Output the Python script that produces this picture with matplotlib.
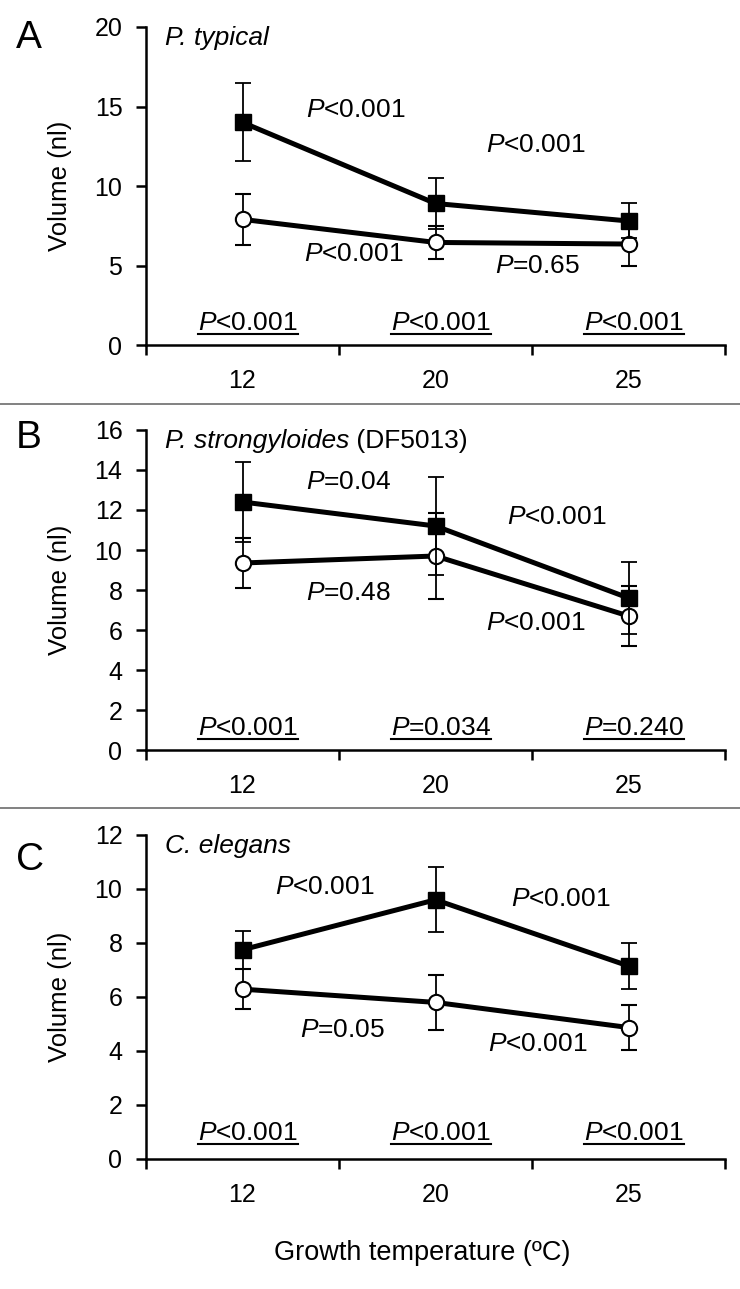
import matplotlib.pyplot as plt
from matplotlib.lines import Line2D
import numpy as np

plt.rcParams['font.family'] = ['Liberation Sans', 'DejaVu Sans']
plt.rcParams['mathtext.fontset'] = 'custom'
plt.rcParams['mathtext.it'] = 'Liberation Sans:italic'
plt.rcParams['mathtext.rm'] = 'Liberation Sans'

temps = ["12", "20", "25"]

# panel A - P. typical
a_fill = [14.0, 8.9, 7.8]
a_fill_err = [2.45, 1.6, 1.1]
a_open = [7.9, 6.45, 6.35]
a_open_err = [1.6, 1.05, 1.35]
a_pvals = ["$P$<0.001", "$P$<0.001", "$P$<0.001", "$P$=0.65"]
a_pvals_bottom = ["$P$<0.001", "$P$<0.001", "$P$<0.001"]

# panel B - P. strongyloides
b_fill = [12.4, 11.2, 7.6]
b_fill_err = [2.0, 2.45, 1.78]
b_open = [9.35, 9.7, 6.7]
b_open_err = [1.25, 2.15, 1.5]
b_pvals = ["$P$=0.04", "$P$<0.001", "$P$=0.48", "$P$<0.001"]
b_pvals_bottom = ["$P$<0.001", "$P$=0.034", "$P$=0.240"]

# panel C - C. elegans
c_fill = [7.75, 9.6, 7.15]
c_fill_err = [0.7, 1.2, 0.85]
c_open = [6.29, 5.8, 4.87]
c_open_err = [0.75, 1.03, 0.85]
c_pvals = ["$P$<0.001", "$P$<0.001", "$P$=0.05", "$P$<0.001"]
c_pvals_bottom = ["$P$<0.001", "$P$<0.001", "$P$<0.001"]

W, H = 740, 1289
fig = plt.figure(figsize=(W / 100, H / 100), dpi=100)

x = np.arange(len(temps)) + 0.5
underlined = []


def panel(rect, title, extra, fill, fill_err, opn, opn_err, ymax, ystep,
          pvals, ppos, pbottom, ybottom):
    ax = fig.add_axes(rect)
    ax.errorbar(x, opn, yerr=opn_err, color='k', lw=3.6, marker='o', ms=11,
                mfc='white', mec='k', mew=1.5, ecolor='k', elinewidth=1.3,
                capsize=5.5, capthick=1.3, zorder=3)
    ax.errorbar(x, fill, yerr=fill_err, color='k', lw=3.6, marker='s', ms=11,
                mfc='k', mec='k', ecolor='k', elinewidth=1.3,
                capsize=5.5, capthick=1.3, zorder=4)
    ax.set_xlim(0, 3)
    ax.set_ylim(0, ymax)
    ax.set_yticks(np.arange(0, ymax + 0.1, ystep))
    ax.set_xticks([0, 1, 2, 3])
    ax.set_xticklabels([])
    ax.set_xticks(x, minor=True)
    ax.set_xticklabels(temps, minor=True)
    ax.tick_params(axis='x', which='minor', length=0, pad=17, labelsize=18)
    ax.tick_params(axis='x', which='major', length=7, width=1.8, direction='out')
    ax.tick_params(axis='y', length=7, width=1.8, direction='out', pad=10,
                   labelsize=18)
    for s in ['top', 'right']:
        ax.spines[s].set_visible(False)
    for s in ['left', 'bottom']:
        ax.spines[s].set_linewidth(1.8)
    ax.set_ylabel("Volume (nl)", fontsize=18.5, labelpad=16)
    t = ax.text(0.033, 0.965, title, transform=ax.transAxes, fontsize=19,
                fontstyle='italic', va='center', ha='left')
    if extra:
        ax.annotate(extra, xy=(1, 0.5), xycoords=t, fontsize=19,
                    va='center', ha='left')
    for (px, py), s in zip(ppos, pvals):
        ax.text(px, py, s, fontsize=19, va='center', ha='left')
    for xi, s in zip(x, pbottom):
        t = ax.text(xi + 0.03, ybottom, s, fontsize=19, va='center', ha='center')
        underlined.append(t)
    return ax


ax_a = panel([146 / W, 1 - 345 / H, 579 / W, 318 / H],
             "P. typical", None, a_fill, a_fill_err, a_open, a_open_err,
             20, 5, a_pvals,
             [(0.83, 14.8), (1.76, 12.6), (0.82, 5.75), (1.81, 5.0)],
             a_pvals_bottom, 1.38)
ax_b = panel([146 / W, 1 - 750 / H, 579 / W, 320 / H],
             "P. strongyloides", " (DF5013)", b_fill, b_fill_err,
             b_open, b_open_err, 16, 2, b_pvals,
             [(0.83, 13.4), (1.87, 11.65), (0.83, 7.83), (1.76, 6.33)],
             b_pvals_bottom, 1.1)
ax_c = panel([146 / W, 1 - 1159 / H, 579 / W, 324 / H],
             "C. elegans", None, c_fill, c_fill_err, c_open, c_open_err,
             12, 2, c_pvals,
             [(0.67, 10.06), (1.89, 9.64), (0.80, 4.77), (1.77, 4.25)],
             c_pvals_bottom, 0.96)

# panel letters
for letter, ybase in [("A", 48), ("B", 448), ("C", 870)]:
    fig.text(16 / W, 1 - ybase / H, letter, fontsize=28, ha='left', va='baseline')

# separators
for ysep in [404, 808]:
    fig.add_artist(Line2D([0, 1], [1 - ysep / H] * 2, transform=fig.transFigure,
                          color='#777777', lw=1.3))

fig.text(422 / W, 1 - 1253 / H, "Growth temperature (ºC)", fontsize=19.5,
         ha='center', va='center')

# underline the between-species p values
fig.canvas.draw()
r = fig.canvas.get_renderer()
inv = fig.transFigure.inverted()
for t in underlined:
    bb = t.get_window_extent(r)
    (x0, y0), (x1, _) = inv.transform([(bb.x0, bb.y0 + 1), (bb.x1, bb.y1)])
    fig.add_artist(Line2D([x0, x1], [y0, y0], transform=fig.transFigure,
                          color='k', lw=1.5))

fig.savefig("out.png", dpi=100)
